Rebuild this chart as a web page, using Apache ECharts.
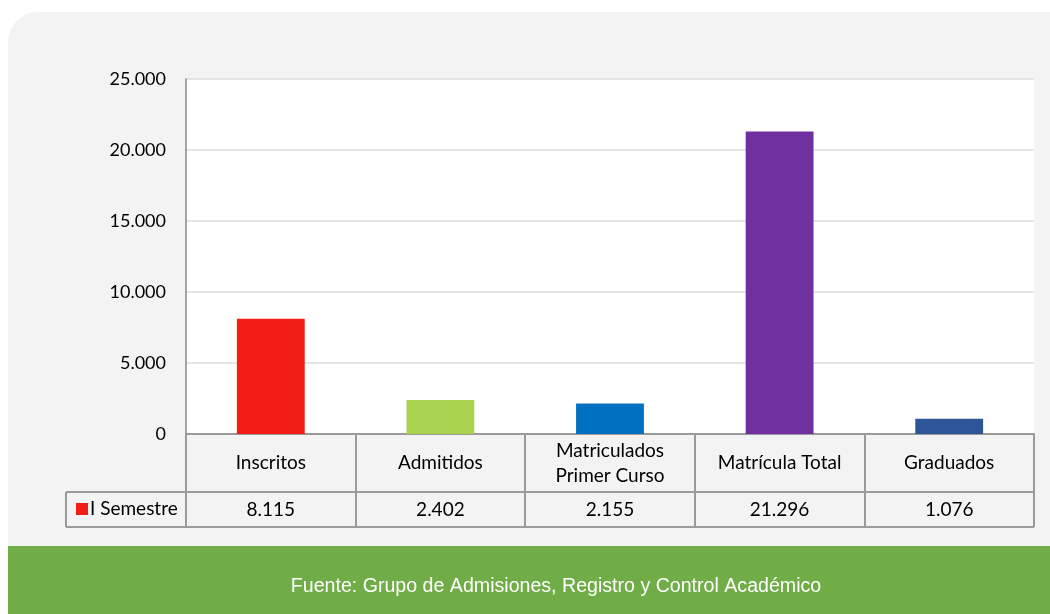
<!DOCTYPE html>
<html><head><meta charset="utf-8">
<script src="https://cdn.jsdelivr.net/npm/echarts@6/dist/echarts.min.js"></script>
<style>html,body{margin:0;padding:0;background:#fff}#c{width:1050px;height:614px}</style>
</head><body><div id="c"></div>
<script>
const categories = ['Inscritos', 'Admitidos', 'Matriculados\nPrimer Curso', 'Matrícula Total', 'Graduados'];
const values = [8115, 2402, 2155, 21296, 1076];
const barColors = ['#f01e17', '#a9d24f', '#0070c0', '#7030a0', '#2e5597'];
const seriesName = 'I Semestre';
const yTicks = [0, 5000, 10000, 15000, 20000, 25000];
const sourceText = 'Fuente: Grupo de Admisiones, Registro y Control Académico';

const fmt = v => String(v).replace(/\B(?=(\d{3})+(?!\d))/g, '.');
const FONT = 'Lato, "Open Sans", sans-serif';
const chart = echarts.init(document.getElementById('c'));
const L = 186, R = 1034, T = 79, B = 434;
chart.setOption({
  animation: false,
  textStyle: { fontFamily: FONT },
  graphic: [
    { type: 'rect', z: -10, silent: true, shape: { x: 8, y: 12, width: 1080, height: 540, r: [30, 0, 0, 0] }, style: { fill: '#f3f3f3' } },
    { type: 'rect', z: -5, silent: true, shape: { x: 8, y: 546, width: 1060, height: 80 }, style: { fill: '#70ad47' } },
    { type: 'line', z: 10, silent: true, shape: { x1: 66, y1: 492, x2: R, y2: 492 }, style: { stroke: '#9a9a9a', lineWidth: 2 } },
    { type: 'line', z: 10, silent: true, shape: { x1: 66, y1: 527, x2: R, y2: 527 }, style: { stroke: '#9a9a9a', lineWidth: 2 } },
    { type: 'line', z: 10, silent: true, shape: { x1: 66, y1: 492, x2: 66, y2: 527 }, style: { stroke: '#9a9a9a', lineWidth: 2 } },
    { type: 'text', z: 10, silent: true, style: { text: sourceText, x: 556, y: 587, align: 'center', verticalAlign: 'middle', fill: '#ffffff', font: '19.6px "Liberation Sans", Arial, sans-serif' } }
  ],
  legend: {
    left: 71, top: 494, itemWidth: 12, itemHeight: 12, itemGap: 4, icon: 'rect',
    textStyle: { fontSize: 19, color: '#000', fontFamily: FONT, padding: [0, 0, 0, -3], lineHeight: 20 },
    data: [seriesName]
  },
  grid: { left: L, right: 1050 - R, top: T, bottom: 614 - B, show: true, backgroundColor: '#ffffff', borderWidth: 0 },
  xAxis: [
    {
      type: 'category', data: categories,
      axisLine: { show: true, lineStyle: { color: '#9a9a9a', width: 2 } },
      axisTick: { show: true, length: 93, lineStyle: { color: '#9a9a9a', width: 2 } },
      axisLabel: { margin: 29, verticalAlign: 'middle', fontSize: 19, color: '#000', lineHeight: 25, fontFamily: FONT }
    },
    {
      type: 'category', data: values.map(fmt), position: 'bottom',
      axisLine: { show: false }, axisTick: { show: false },
      axisLabel: { margin: 76, verticalAlign: 'middle', fontSize: 19, color: '#000', fontFamily: FONT }
    }
  ],
  yAxis: {
    type: 'value', min: yTicks[0], max: yTicks[yTicks.length - 1], interval: yTicks[1] - yTicks[0],
    axisLine: { show: true, lineStyle: { color: '#888', width: 1.5 } },
    axisTick: { show: false },
    splitLine: { lineStyle: { color: '#dcdcdc', width: 1.5 } },
    axisLabel: { margin: 20, fontSize: 18, color: '#000', formatter: fmt, fontFamily: FONT }
  },
  series: [{
    name: seriesName, type: 'bar', barWidth: '40%',
    itemStyle: { color: barColors[0] },
    data: values.map((v, i) => ({ value: v, itemStyle: { color: barColors[i] } }))
  }]
});
</script></body></html>
